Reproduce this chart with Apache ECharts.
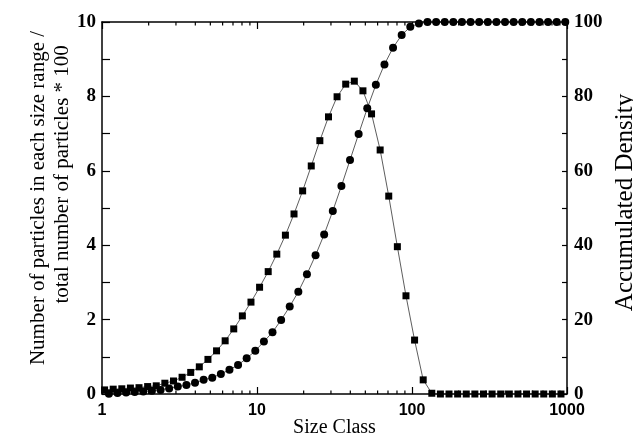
<!DOCTYPE html>
<html>
<head>
<meta charset="utf-8">
<script src="https://cdn.jsdelivr.net/npm/echarts@6/dist/echarts.min.js"></script>
<style>html,body{margin:0;padding:0;background:#fff}#c{width:633px;height:441px}</style>
</head>
<body>
<div id="c"></div>
<script>
// Size class positions
const sizeSquares = [1.039,1.181,1.342,1.525,1.733,1.970,2.239,2.544,2.892,3.286,3.735,4.245,4.825,5.483,6.231,7.079,8.046,9.144,10.39,11.81,13.42,15.25,17.33,19.70,22.39,25.44,28.92,32.86,37.35,42.45,48.25,54.83,62.31,70.79,80.46,91.44,103.9,118.1,134.2,152.5,173.3,197.0,223.9,254.4,289.2,328.6,373.5,424.5,482.5,548.3,623.1,707.9,804.6,914.4];
const sizeCircles = [1.108,1.259,1.431,1.626,1.848,2.100,2.387,2.712,3.083,3.504,3.982,4.526,5.144,5.846,6.643,7.547,8.578,9.748,11.08,12.59,14.31,16.26,18.48,21.00,23.87,27.12,30.83,35.04,39.82,45.26,51.44,58.46,66.43,75.47,85.78,97.48,110.8,125.9,143.1,162.6,184.8,210.0,238.7,271.2,308.3,350.4,398.2,452.6,514.4,584.6,664.3,754.7,857.8,974.8];
// Number of particles in each size range / total * 100
const percentValues = [0.11,0.13,0.14,0.16,0.17,0.20,0.22,0.29,0.35,0.45,0.58,0.73,0.93,1.16,1.43,1.75,2.10,2.47,2.87,3.29,3.76,4.27,4.84,5.46,6.13,6.81,7.45,7.99,8.33,8.41,8.15,7.53,6.56,5.32,3.96,2.64,1.45,0.38,0.02,0,0,0,0,0,0,0,0,0,0,0,0,0,0,0];
// Accumulated density
const accumValues = [0.1,0.25,0.4,0.55,0.7,0.9,1.1,1.5,2.0,2.4,3.0,3.8,4.4,5.4,6.5,7.8,9.6,11.6,14.1,16.6,19.9,23.5,27.5,32.2,37.3,42.9,49.2,55.9,62.9,69.9,76.8,83.1,88.6,93.1,96.5,98.7,99.6,100,100,100,100,100,100,100,100,100,100,100,100,100,100,100,100,100];
// log axis minor tick values
const minorTickValues = [2,3,4,5,6,7,8,9,20,30,40,50,60,70,80,90,200,300,400,500,600,700,800,900];
const xTickLabels = ['1','10','100','1000'];

const chart = echarts.init(document.getElementById('c'), null, {renderer:'canvas'});
const serif = 'Liberation Serif, Times New Roman, serif';
const sans = 'Liberation Sans, Arial, sans-serif';
const axisLine = {show:true, onZero:false, lineStyle:{color:'#000', width:1.5}};

function minorTicks(xIdx, yVal, dir){
  return {
    type:'custom', xAxisIndex:xIdx, yAxisIndex:0, clip:false, silent:true,
    data:minorTickValues.map(v=>[v, yVal]),
    renderItem:(params, api)=>{
      const p = api.coord([api.value(0), api.value(1)]);
      return {type:'line', shape:{x1:p[0], y1:p[1], x2:p[0], y2:p[1]+dir*3.5},
        style:{stroke:'#000', lineWidth:1.2}};
    }
  };
}

const option = {
  animation:false,
  backgroundColor:'#fff',
  grid:{left:102, right:66, top:22, bottom:47, containLabel:false, outerBoundsMode:'none'},
  xAxis:[{
    type:'log', logBase:10, min:1, max:1000, position:'bottom',
    axisLine:axisLine,
    axisTick:{show:true, inside:true, length:7, lineStyle:{color:'#000', width:1.2}},
    axisLabel:{show:true, margin:9, fontFamily:sans, fontWeight:'bold', fontSize:16, color:'#000',
      formatter:(v)=>{const i=Math.round(Math.log10(v)); return xTickLabels[i]!==undefined?xTickLabels[i]:'';}},
    splitLine:{show:false},
    name:'Size Class', nameLocation:'middle', nameGap:24, nameMoveOverlap:false,
    nameTextStyle:{fontFamily:serif, fontSize:20, color:'#000'}
  },{
    type:'log', logBase:10, min:1, max:1000, position:'top',
    axisLine:axisLine,
    axisTick:{show:true, inside:true, length:7, lineStyle:{color:'#000', width:1.2}},
    axisLabel:{show:false}, splitLine:{show:false}
  }],
  yAxis:[{
    type:'value', min:0, max:10, interval:2, position:'left',
    axisLine:axisLine,
    axisTick:{show:true, inside:true, length:8, lineStyle:{color:'#000', width:1.2}},
    minorTick:{show:true, splitNumber:2, length:8, lineStyle:{color:'#000', width:1.2}},
    axisLabel:{margin:6, fontFamily:serif, fontWeight:'bold', fontSize:19, color:'#000'},
    splitLine:{show:false},
    name:'Number of particles in each size range /\n         total number of particles * 100',
    nameLocation:'middle', nameGap:28, nameRotate:90, nameMoveOverlap:false,
    nameTextStyle:{fontFamily:serif, fontSize:21, color:'#000', lineHeight:24, padding:[0,0,0,20]}
  },{
    type:'value', min:0, max:100, interval:20, position:'right',
    axisLine:axisLine,
    axisTick:{show:true, inside:true, length:5, lineStyle:{color:'#000', width:1.2}},
    minorTick:{show:true, splitNumber:2, length:5, lineStyle:{color:'#000', width:1.2}},
    axisLabel:{margin:7, fontFamily:serif, fontWeight:'bold', fontSize:19, color:'#000'},
    splitLine:{show:false},
    name:'Accumulated Density', nameLocation:'middle', nameGap:41, nameRotate:90,
    nameTextStyle:{fontFamily:serif, fontSize:25, color:'#000', padding:[0,0,0,11]}
  }],
  series:[
    minorTicks(0, 0, -1),
    minorTicks(1, 10, 1),
  {
    name:'percent', type:'line', xAxisIndex:0, yAxisIndex:0,
    data:sizeSquares.map((x,i)=>[x, percentValues[i]]),
    symbol:'rect', symbolSize:7, showSymbol:true, showAllSymbol:true,
    lineStyle:{color:'#333', width:0.8},
    itemStyle:{color:'#000'}, z:3
  },{
    name:'accum', type:'line', xAxisIndex:0, yAxisIndex:1,
    data:sizeCircles.map((x,i)=>[x, accumValues[i]]),
    symbol:'circle', symbolSize:8, showSymbol:true, showAllSymbol:true,
    lineStyle:{color:'#333', width:0.8},
    itemStyle:{color:'#000'}, z:4
  }]
};
chart.setOption(option);
</script>
</body>
</html>
